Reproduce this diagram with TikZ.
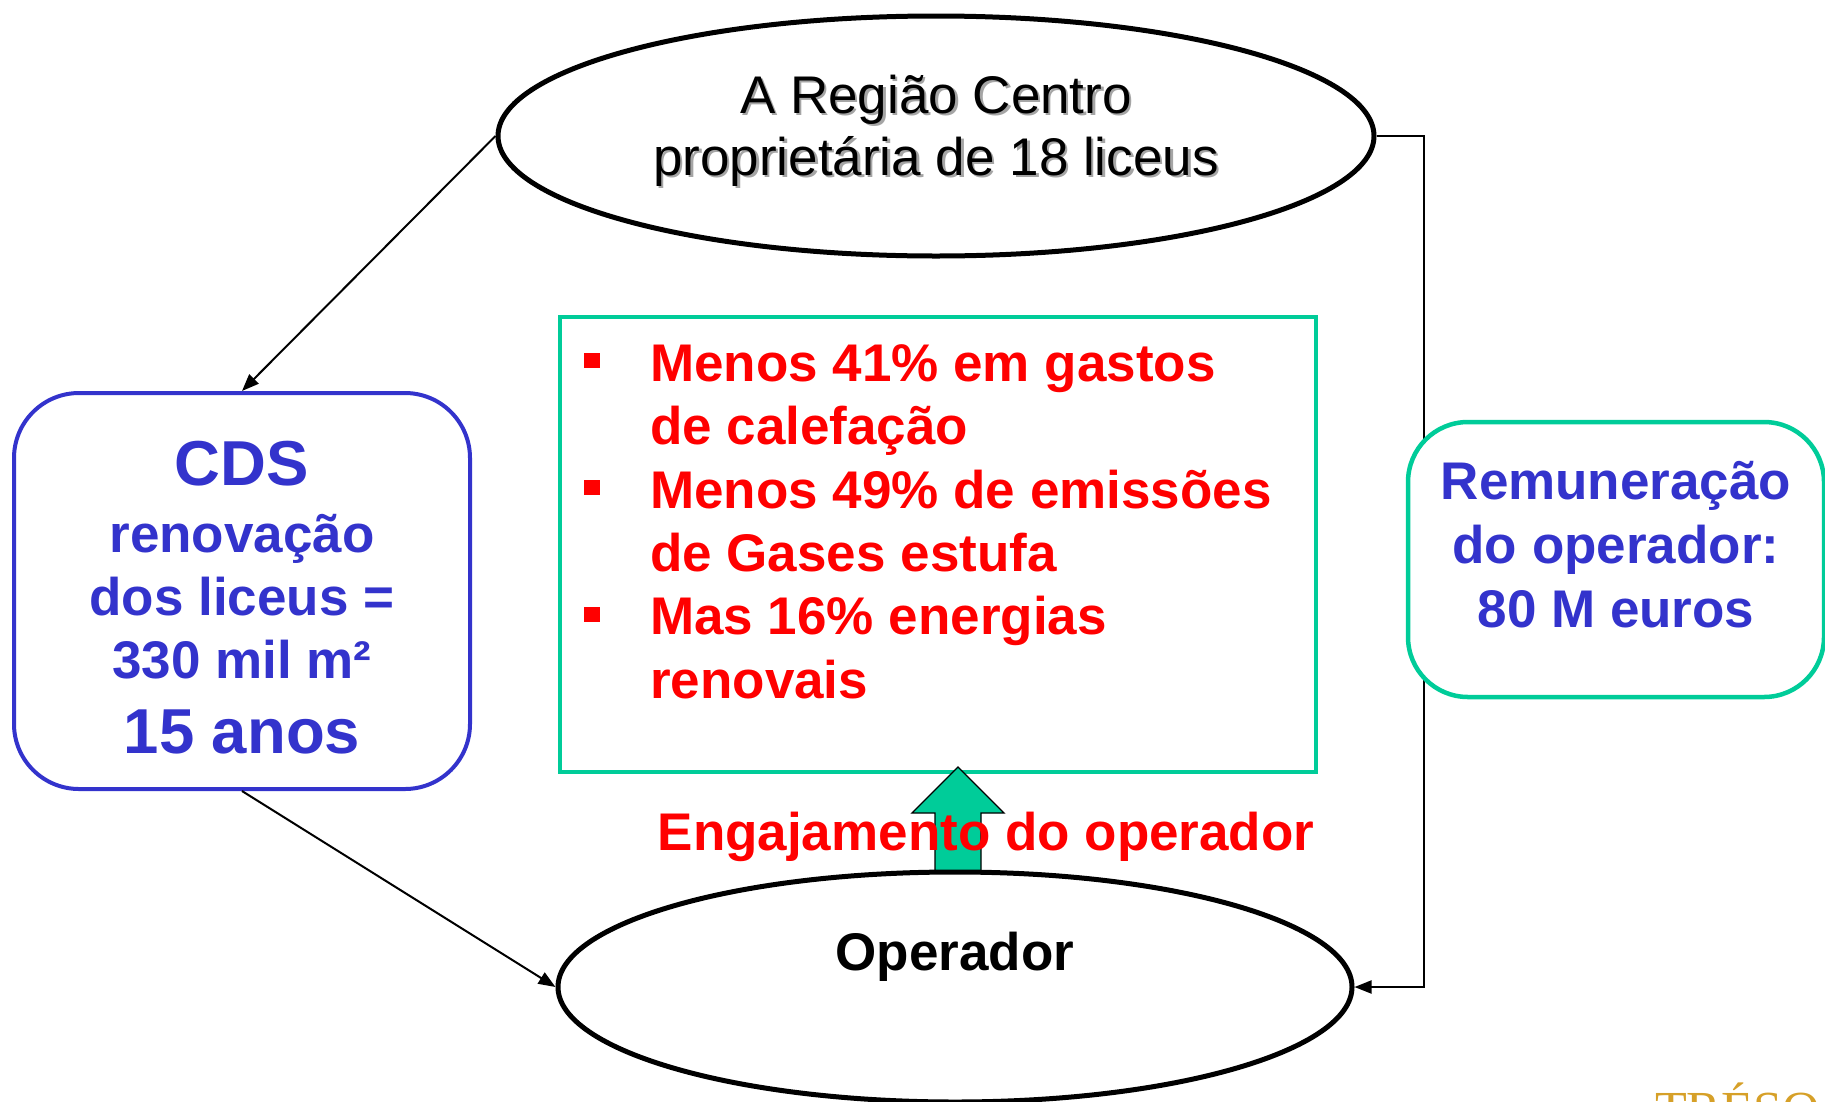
\documentclass[tikz,border=0pt]{standalone}
\usepackage{fontspec}
\setmainfont{Liberation Sans}
\newfontfamily\goldserif{Liberation Serif}
\usetikzlibrary{shapes.geometric,arrows.meta}
\definecolor{cdsblue}{RGB}{51,51,204}
\definecolor{tealgreen}{RGB}{0,204,153}
\definecolor{alertred}{RGB}{255,0,0}
\definecolor{goldtone}{RGB}{214,160,40}
\definecolor{shadowgray}{RGB}{165,165,165}
\newcommand\hstrut[1]{\rule{0pt}{#1}}
\newcommand\dstrut[1]{\rule[-#1]{0pt}{#1}}
\newcommand\sqbullet{\raisebox{13pt}{\color{alertred}\rule{16pt}{15pt}}}
\begin{document}
\begin{tikzpicture}[x=1pt,y=-1pt,
  oval/.style={ellipse, draw=black, line width=5pt, inner sep=0pt, align=center},
  conn/.style={draw=black, line width=2pt, -{Triangle[length=17pt,width=13pt]}},
  bluebox/.style={draw=cdsblue, line width=4pt, rounded corners=65pt, fill=white,
    inner sep=0pt, align=center, text=cdsblue},
  tealbox/.style={draw=tealgreen, line width=4.5pt, rounded corners=60pt, fill=white,
    inner sep=0pt, align=center, text=cdsblue},
  regfont/.style={font=\fontsize{53}{62}\selectfont},
  boldfont/.style={font=\bfseries\fontsize{53}{63}\selectfont}]
\useasboundingbox (0,0) rectangle (1825,1101);
\clip (0,0) rectangle (1825,1101);

% top ellipse (shadow first)
\node[regfont, inner sep=0pt, align=center, text=shadowgray] (regionshadow) at (938.5,138.5)
  {\hstrut{48pt}A Região Centro\\proprietária de 18 liceus\dstrut{32pt}};
\node[oval, regfont, minimum width=876pt, minimum height=240pt] (region) at (936,136)
  {\hstrut{48pt}A Região Centro\\proprietária de 18 liceus\dstrut{32pt}};

% results box
\node[draw=tealgreen, line width=4.5pt, minimum width=756pt, minimum height=455pt, inner sep=0pt] (gains) at (938,544.5) {};
\node[anchor=north west, inner sep=0pt, align=left, text=alertred,
  font=\bfseries\fontsize{53}{63.4}\selectfont] (gainlist) at (584,331)
  {\hstrut{50pt}\makebox[66pt][l]{\sqbullet}Menos 41\% em gastos\\
   \hspace*{66pt}de calefação\\
   \makebox[66pt][l]{\sqbullet}Menos 49\% de emissões\\
   \hspace*{66pt}de Gases estufa\\
   \makebox[66pt][l]{\sqbullet}Mas 16\% energias\\
   \hspace*{66pt}renovais};

% block arrow
\draw[fill=tealgreen, draw=black, line width=1.3pt, line join=miter]
  (935,872) -- (935,813) -- (912,813) -- (958,767) -- (1004,813) -- (981,813) -- (981,872) -- cycle;
\node[anchor=base, inner sep=0pt, text=alertred, font=\bfseries\fontsize{53}{60}\selectfont] (engage) at (986,850)
  {Engajamento do operador};

% bottom ellipse
\node[oval, boldfont, minimum width=794pt, minimum height=230pt] (oper) at (955,987)
  {\hstrut{45pt}Operador\dstrut{79pt}};

% right connector (behind remuneration box)
\draw[conn] (region.east) -- ++(47,0) |- (oper.east);

% CDS box
\node[bluebox, boldfont, minimum width=456pt, minimum height=396pt] (cds) at (242,591)
  {\hstrut{60pt}\fontsize{63.5}{63}\selectfont CDS\\[4pt]
   renovação\\
   dos liceus =\\
   330 mil m²\\[12pt]
   \fontsize{63.5}{63}\selectfont 15 anos\dstrut{4pt}};
\draw[conn] (region.west) -- (cds.north);
\draw[conn] (cds.south) -- (oper.west);

% remuneration box
\node[tealbox, font=\bfseries\fontsize{53}{64}\selectfont, minimum width=416pt, minimum height=275pt] (pay) at (1616,559.5)
  {\hstrut{50pt}Remuneração\\do operador:\\80 M euros\dstrut{43pt}};

\node[anchor=base west, inner sep=0pt, text=goldtone, font=\goldserif\fontsize{52}{60}\selectfont] (treso) at (1655,1127) {TRÉSO};
\end{tikzpicture}
\end{document}
